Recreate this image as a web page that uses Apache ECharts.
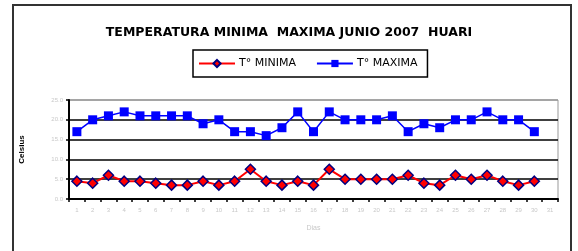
<!DOCTYPE html>
<html>
<head>
<meta charset="utf-8">
<script src="https://cdn.jsdelivr.net/npm/echarts@6/dist/echarts.min.js"></script>
<style>
html,body{margin:0;padding:0;background:#fff;}
#c{width:578px;height:251px;}
</style>
</head>
<body>
<div id="c"></div>
<script>
const titleText = 'TEMPERATURA MINIMA  MAXIMA JUNIO 2007  HUARI';
const days = ['1','2','3','4','5','6','7','8','9','10','11','12','13','14','15','16','17','18','19','20','21','22','23','24','25','26','27','28','29','30','31'];
const tMin = [4.5,4,6,4.5,4.5,4,3.5,3.5,4.5,3.5,4.5,7.5,4.5,3.5,4.5,3.5,7.5,5,5,5,5,6,4,3.5,6,5,6,4.5,3.5,4.5];
const tMax = [17,20,21,22,21,21,21,21,19,20,17,17,16,18,22,17,22,20,20,20,21,17,19,18,20,20,22,20,20,17];
const yTicks = [0,5,10,15,20,25];
const seriesNames = ['T° MINIMA','T° MAXIMA'];

const chart = echarts.init(document.getElementById('c'), null, {renderer:'canvas'});
chart.setOption({
  animation:false,
  backgroundColor:'#fff',
  title:{
    text:titleText,
    left:'center',
    top:21,
    textStyle:{fontFamily:'DejaVu Sans, sans-serif',fontSize:12.5,fontWeight:'bold',color:'#000'}
  },
  legend:{
    data:seriesNames,
    left:193,
    top:50,
    padding:[8,10,8,5],
    borderColor:'#000',
    borderWidth:1.5,
    itemWidth:36,
    itemHeight:9,
    itemGap:20,
    textStyle:{fontFamily:'DejaVu Sans, sans-serif',fontSize:11,color:'#000',padding:[0,0,0,-1]}
  },
  graphic:[{
    type:'rect',
    shape:{x:13,y:5,width:558,height:270},
    style:{fill:'none',stroke:'#333',lineWidth:2},
    silent:true
  }],
  grid:{
    left:69,right:20,top:100,bottom:52,
    show:true,borderColor:'#999',borderWidth:1
  },
  xAxis:{
    type:'category',
    data:days,
    boundaryGap:true,
    name:'Dias',
    nameLocation:'middle',
    nameGap:26,
    nameTextStyle:{fontFamily:'Liberation Sans, Arial, sans-serif',fontSize:7,color:'#c8c8c8'},
    axisLine:{lineStyle:{color:'#000',width:2}},
    axisTick:{show:true,alignWithLabel:false,length:3,lineStyle:{color:'#000',width:1.5}},
    axisLabel:{fontFamily:'Liberation Sans, Arial, sans-serif',fontSize:6,color:'#c8c8c8',margin:8,interval:0}
  },
  yAxis:{
    type:'value',
    min:0,max:25,interval:5,
    name:'Celsius',
    nameLocation:'middle',
    nameGap:43,
    nameTextStyle:{fontFamily:'Liberation Sans, Arial, sans-serif',fontSize:8,fontWeight:'bold',color:'#000'},
    axisLine:{show:true,lineStyle:{color:'#000',width:2}},
    axisTick:{show:true,length:3,lineStyle:{color:'#000',width:1.5}},
    axisLabel:{fontFamily:'Liberation Sans, Arial, sans-serif',fontSize:6,color:'#c8c8c8',margin:6,
      formatter:function(v){return yTicks.indexOf(v)>=0 ? v.toFixed(1) : '';}},
    splitLine:{show:true,lineStyle:{color:['#000','#000','#000','#000','#000','#999'],width:1.5}}
  },
  series:[
    {
      name:seriesNames[0],
      type:'line',
      data:tMin,
      symbol:'diamond',
      symbolSize:10,
      color:'#ff0000',
      lineStyle:{color:'#ff0000',width:2},
      itemStyle:{color:'#ff0000',borderColor:'#000080',borderWidth:1.5},
      z:3
    },
    {
      name:seriesNames[1],
      type:'line',
      data:tMax,
      symbol:'rect',
      symbolSize:9,
      color:'#0000ff',
      lineStyle:{color:'#0000ff',width:1.5},
      itemStyle:{color:'#0000ff'},
      z:3
    }
  ]
});
</script>
</body>
</html>
